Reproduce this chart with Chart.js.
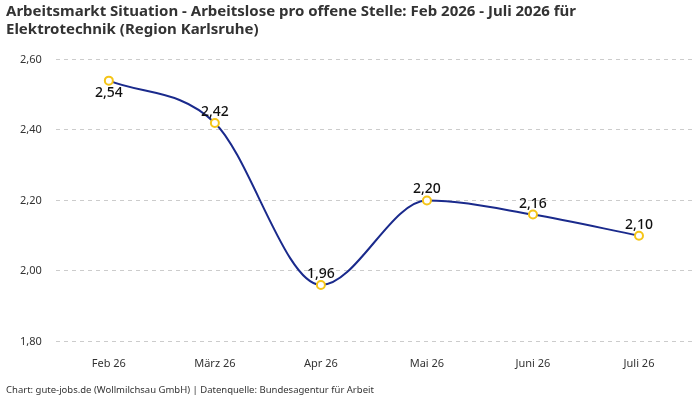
<!DOCTYPE html>
<html><head><meta charset="utf-8">
<script src="https://cdn.jsdelivr.net/npm/chart.js"></script>
<style>body{margin:0;background:#fff}#w{width:700px;height:400px}</style>
</head><body><div id="w"><canvas id="c"></canvas></div>
<script>
const categories=["Feb 26","März 26","Apr 26","Mai 26","Juni 26","Juli 26"];
const values=[2.54,2.42,1.96,2.20,2.16,2.10];
const yTicks=[1.8,2.0,2.2,2.4,2.6];
const fmt=v=>v.toFixed(2).replace('.',',');
const labelsPlugin={id:'lbl',afterDatasetsDraw(ch){
 const ctx=ch.ctx;const m=ch.getDatasetMeta(0);
 ctx.save();ctx.font='500 14px "Noto Sans"';ctx.fillStyle='#111';ctx.textAlign='center';
 m.data.forEach((p,i)=>{const below=i===0;ctx.textBaseline=below?'top':'bottom';
  ctx.fillText(fmt(values[i]),p.x,below?p.y+5:p.y-4);});
 ctx.restore();}};
new Chart(document.getElementById('c'),{type:'line',
data:{labels:categories,datasets:[{data:values,borderColor:'#1a2a8c',borderWidth:2,cubicInterpolationMode:'monotone',
 pointRadius:4,pointBackgroundColor:'#fff',pointBorderColor:'#f5c518',pointBorderWidth:2}]},
options:{responsive:true,maintainAspectRatio:false,animation:false,
 layout:{padding:{left:6,right:8,top:2,bottom:4}},
 plugins:{legend:{display:false},tooltip:{enabled:false},
  title:{display:true,text:['Arbeitsmarkt Situation - Arbeitslose pro offene Stelle: Feb 2026 - Juli 2026 für','Elektrotechnik (Region Karlsruhe)'],
   align:'start',color:'#333',font:{family:'Noto Sans',size:15,weight:'bold',lineHeight:1.25},padding:{top:0,bottom:20}},
  subtitle:{display:true,position:'bottom',align:'start',text:'Chart: gute-jobs.de (Wollmilchsau GmbH) | Datenquelle: Bundesagentur für Arbeit',
   color:'#333',font:{family:'Noto Sans',size:9.5},padding:{top:6,bottom:0}}},
 scales:{x:{offset:true,grid:{display:false},border:{display:false},ticks:{color:'#333',font:{family:'Noto Sans',size:11},padding:8}},
  y:{min:1.8,max:2.6,afterBuildTicks:a=>{a.ticks=yTicks.map(v=>({value:v}));},
   grid:{color:'#ccc',drawTicks:false},border:{display:false,dash:[4,4]},
   ticks:{color:'#333',font:{family:'Noto Sans',size:11},padding:14,callback:v=>fmt(v)}}}},
plugins:[labelsPlugin]});
</script></body></html>
